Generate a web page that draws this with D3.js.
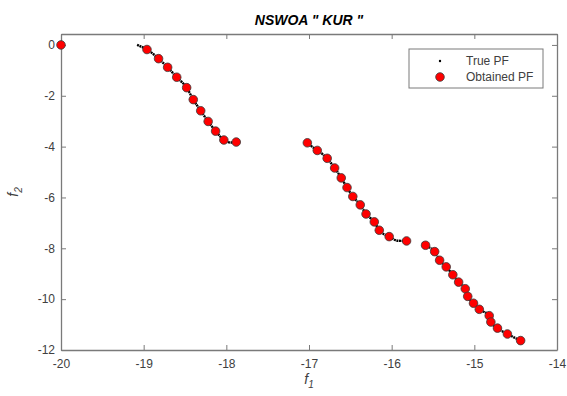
<!DOCTYPE html>
<html>
<head>
<meta charset="utf-8">
<script src="https://cdn.jsdelivr.net/npm/d3@7"></script>
<style>
body { margin:0; background:#fff; }
text { font-family: "Liberation Sans", Arial, sans-serif; }
</style>
</head>
<body>
<div class="chart_div"></div>
<script>
// values
var xTicks = [-20,-19,-18,-17,-16,-15,-14];
var yTicks = [-12,-10,-8,-6,-4,-2,0];

// true front, three pieces plus the lone point
var trueF1_a = [-19.08,-18.96,-18.82,-18.71,-18.60,-18.48,-18.40,-18.31,-18.22,-18.13,-18.03,-17.95,-17.88];
var trueF2_a = [0.0,-0.18,-0.54,-0.88,-1.27,-1.68,-2.15,-2.59,-3.01,-3.39,-3.74,-3.84,-3.82];
var trueF1_b = [-17.03,-16.90,-16.78,-16.69,-16.61,-16.54,-16.47,-16.38,-16.31,-16.21,-16.15,-16.03,-15.93,-15.82];
var trueF2_b = [-3.85,-4.15,-4.46,-4.84,-5.23,-5.61,-5.96,-6.29,-6.65,-6.96,-7.29,-7.54,-7.70,-7.71];
var trueF1_c = [-15.63,-15.59,-15.48,-15.42,-15.34,-15.26,-15.19,-15.11,-15.08,-15.01,-14.94,-14.82,-14.80,-14.72,-14.60,-14.44];
var trueF2_c = [-7.77,-7.88,-8.13,-8.47,-8.73,-9.04,-9.33,-9.59,-9.89,-10.16,-10.40,-10.65,-10.90,-11.14,-11.37,-11.63];

// obtained front
var objF1 = [-20.00,
  -18.96,-18.82,-18.71,-18.60,-18.48,-18.40,-18.31,-18.22,-18.13,-18.03,-17.88,
  -17.02,-16.90,-16.78,-16.69,-16.61,-16.54,-16.47,-16.38,-16.31,-16.21,-16.15,-16.03,-15.82,
  -15.59,-15.48,-15.42,-15.34,-15.26,-15.19,-15.11,-15.08,-15.01,-14.94,-14.82,-14.80,-14.72,-14.60,-14.44];
var objF2 = [0.00,
  -0.18,-0.54,-0.88,-1.27,-1.68,-2.15,-2.59,-3.01,-3.39,-3.74,-3.82,
  -3.85,-4.15,-4.46,-4.84,-5.23,-5.61,-5.96,-6.29,-6.65,-6.96,-7.29,-7.54,-7.71,
  -7.88,-8.13,-8.47,-8.73,-9.04,-9.33,-9.59,-9.89,-10.16,-10.40,-10.65,-10.90,-11.14,-11.37,-11.63];

var W = 567, H = 396;
var padL = 61, padR = 557, padT = 34, padB = 350;
var axisCol = "#7a7a7a", txtCol = "#404040";
var fmt = function(d){ return String(d); };

var svg = d3.select(".chart_div").append("svg")
			.attr("width",W)
			.attr("height",H);

var x = d3.scaleLinear().domain([-20,-14]).range([padL,padR]);
var y = d3.scaleLinear().domain([-12,0.43]).range([padB,padT]);

function styleAxis(g){
	g.select(".domain").attr("stroke",axisCol).attr("stroke-width",1.3);
	g.selectAll(".tick line").attr("stroke",axisCol);
	g.selectAll(".tick text").attr("fill",txtCol).style("font-size","12px")
	 .style("font-family","'Liberation Sans', Arial, sans-serif");
}

svg.append("g").attr("transform","translate(0,"+padB+")")
	.call(d3.axisBottom(x).tickValues(xTicks).tickFormat(fmt).tickSize(-5).tickPadding(9).tickSizeOuter(0))
	.call(styleAxis);
svg.append("g").attr("transform","translate(0,"+padT+")")
	.call(d3.axisTop(x).tickValues(xTicks).tickSize(-5).tickFormat("").tickSizeOuter(0))
	.call(styleAxis);
svg.append("g").attr("transform","translate("+padL+",0)")
	.call(d3.axisLeft(y).tickValues(yTicks).tickFormat(fmt).tickSize(-5).tickPadding(6).tickSizeOuter(0))
	.call(styleAxis);
svg.append("g").attr("transform","translate("+padR+",0)")
	.call(d3.axisRight(y).tickValues(yTicks).tickSize(-5).tickFormat("").tickSizeOuter(0))
	.call(styleAxis);

// true PF drawn as a dense black trace
var line = d3.line()
	.x(function(d){ return x(d[0]); })
	.y(function(d){ return y(d[1]); })
	.curve(d3.curveMonotoneX);
var pieces = [[trueF1_a,trueF2_a],[trueF1_b,trueF2_b],[trueF1_c,trueF2_c]];
pieces.forEach(function(p){
	var pts = p[0].map(function(v,i){ return [v,p[1][i]]; });
	svg.append("path")
		.attr("d",line(pts))
		.attr("fill","none")
		.attr("stroke","#000")
		.attr("stroke-width",2.4)
		.attr("stroke-dasharray","2,0.6");
});

// obtained PF
svg.selectAll("circle.obt")
	.data(objF1)
	.enter()
	.append("circle")
	.attr("class","obt")
	.attr("cx",function(d){ return x(d); })
	.attr("cy",function(d,i){ return y(objF2[i]); })
	.attr("r",4.3)
	.attr("fill","#ff0000")
	.attr("stroke","#3a3a3a")
	.attr("stroke-width",0.8);

// title and labels
svg.append("text")
	.attr("x",(padL+padR)/2)
	.attr("y",25)
	.attr("text-anchor","middle")
	.style("font-size","14px")
	.style("font-weight","bold")
	.style("font-style","italic")
	.attr("fill","#000")
	.text("NSWOA \" KUR \"");

var xl = svg.append("text")
	.attr("x",(padL+padR)/2)
	.attr("y",384)
	.attr("text-anchor","middle")
	.attr("fill",txtCol)
	.style("font-size","14px")
	.style("font-style","italic");
xl.append("tspan").text("f");
xl.append("tspan").attr("dy",4).style("font-size","10px").text("1");

var yl = svg.append("text")
	.attr("transform","translate(18,"+((padT+padB)/2)+") rotate(-90)")
	.attr("text-anchor","middle")
	.attr("fill",txtCol)
	.style("font-size","14px")
	.style("font-style","italic");
yl.append("tspan").text("f");
yl.append("tspan").attr("dy",4).style("font-size","10px").text("2");

// legend
var lg = svg.append("g");
lg.append("rect")
	.attr("x",409).attr("y",49)
	.attr("width",134).attr("height",39)
	.attr("fill","#fff")
	.attr("stroke",axisCol)
	.attr("stroke-width",1);
lg.append("circle").attr("cx",440).attr("cy",61).attr("r",1.2).attr("fill","#000");
lg.append("circle").attr("cx",440).attr("cy",77).attr("r",4.3)
	.attr("fill","#ff0000").attr("stroke","#3a3a3a").attr("stroke-width",0.8);
lg.append("text").attr("x",466).attr("y",65).attr("fill",txtCol)
	.style("font-size","12px").text("True PF");
lg.append("text").attr("x",466).attr("y",81).attr("fill",txtCol)
	.style("font-size","12px").text("Obtained PF");
</script>
</body>
</html>
